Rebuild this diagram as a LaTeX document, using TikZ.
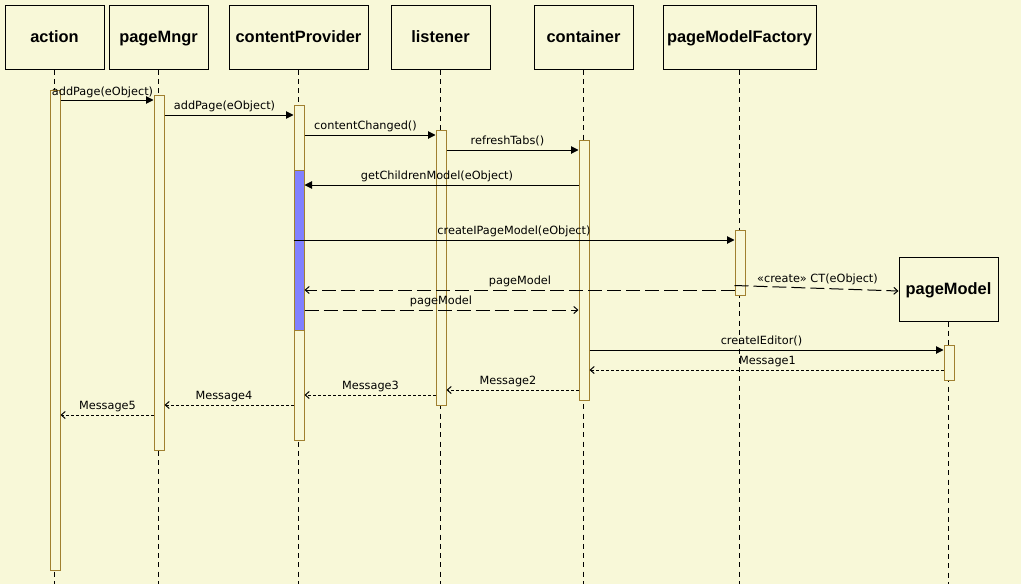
\documentclass[tikz,border=0pt]{standalone}
\usepackage{fontspec}
\setmainfont{DejaVu Sans}
\newfontfamily\headfont{Liberation Sans}
\usetikzlibrary{arrows.meta}
\definecolor{bg}{RGB}{248,248,216}
\definecolor{barc}{RGB}{160,128,48}
\definecolor{actblue}{RGB}{128,128,255}
\tikzset{
  head/.style={draw=black, line width=1pt, fill=bg, minimum height=64pt, inner sep=0pt,
    text height=11.7pt, text depth=0pt,
    font=\headfont\fontsize{16.4}{18}\selectfont\bfseries},
  life/.style={draw=black, line width=1pt, dash pattern=on 5pt off 4.3pt},
  actbar/.style={draw=barc, line width=1pt, fill=bg, minimum width=10pt, inner sep=0pt},
  call/.style={draw=black, line width=1pt, -{Triangle[length=7.5pt,width=7.5pt]}},
  reply/.style={draw=black, line width=1pt, dash pattern=on 3pt off 2pt,
    -{Straight Barb[length=4pt,width=7pt]}},
  longreply/.style={draw=black, line width=1pt, dash pattern=on 14pt off 5pt,
    -{Straight Barb[length=4pt,width=7pt]}},
  lbl/.style={anchor=base, inner sep=0pt, font=\fontsize{11.3}{13}\selectfont},
}
\begin{document}
\begin{tikzpicture}[x=1pt,y=-1pt]
\useasboundingbox[fill=bg] (0,0) rectangle (1021,584);

% headers
\node[head, minimum width=99pt]  (hA) at (54.5,37)  {action};
\node[head, minimum width=99pt]  (hM) at (158.5,37) {pageMngr};
\node[head, minimum width=139pt] (hC) at (298.5,37) {contentProvider};
\node[head, minimum width=99pt]  (hL) at (440.5,37) {listener};
\node[head, minimum width=99pt]  (hK) at (583.5,37) {container};
\node[head, minimum width=153pt] (hF) at (739.5,37) {pageModelFactory};
\node[head, minimum width=99pt]  (pM) at (948.5,289) {pageModel};

% lifelines
\foreach \h in {hA,hM,hC,hL,hK,hF,pM}
  \draw[life] (\h.south) -- (\h.south |- 0,584);

% activation bars
\node[actbar, minimum height=480pt] (aA) at (55,330) {};
\node[actbar, minimum height=355pt] (aM) at (159,272.5) {};
\node[actbar, minimum height=335pt] (aC) at (299,272.5) {};
\node[actbar, fill=actblue, minimum height=160pt] (aCb) at (299,250) {};
\node[actbar, minimum height=275pt] (aL) at (441,267.5) {};
\node[actbar, minimum height=260pt] (aK) at (584,270) {};
\node[actbar, minimum height=65pt]  (aF) at (740,262.5) {};
\node[actbar, minimum height=35pt]  (aP) at (949,362.5) {};

% messages
\draw[call] (aA.east |- 0,100) -- (aM.west |- 0,100);
\node[lbl] (l1) at (102.5,95) {addPage(eObject)};

\draw[call] (aM.east |- 0,115) -- (aC.west |- 0,115);
\node[lbl] (l2) at (224.5,109) {addPage(eObject)};

\draw[call] (aC.east |- 0,135) -- (aL.west |- 0,135);
\node[lbl] (l3) at (365.5,129) {contentChanged()};

\draw[call] (aL.east |- 0,150) -- (aK.west |- 0,150);
\node[lbl] (l4) at (507.5,144) {refreshTabs()};

\draw[call] (aK.west |- 0,185) -- (aCb.east |- 0,185);
\node[lbl] (l5) at (437,179.5) {getChildrenModel(eObject)};

\draw[call] (aCb.west |- 0,240) -- (aF.west |- 0,240);
\node[lbl] (l6) at (514,234.5) {createIPageModel(eObject)};

\draw[longreply] (aF.west |- 0,290) -- (aCb.east |- 0,290);
\node[lbl] (l7) at (520,284) {pageModel};

\draw[longreply] (aCb.east |- 0,310) -- (aK.west |- 0,310);
\node[lbl] (l8) at (441,304) {pageModel};

\draw[longreply] (aF.west |- 0,285.5) -- (pM.west |- 0,291);
\node[lbl] (l9) at (817.5,282) {«create» CT(eObject)};

\draw[call] (aK.east |- 0,350) -- (aP.west |- 0,350);
\node[lbl] (l10) at (761.5,344.5) {createIEditor()};

\draw[reply] (aP.west |- 0,370) -- (aK.east |- 0,370);
\node[lbl] (l11) at (767.5,364) {Message1};

\draw[reply] (aK.west |- 0,390) -- (aL.east |- 0,390);
\node[lbl] (l12) at (508,384.5) {Message2};

\draw[reply] (aL.west |- 0,395) -- (aC.east |- 0,395);
\node[lbl] (l13) at (370.5,389) {Message3};

\draw[reply] (aC.west |- 0,405) -- (aM.east |- 0,405);
\node[lbl] (l14) at (224,399) {Message4};

\draw[reply] (aM.west |- 0,415) -- (aA.east |- 0,415);
\node[lbl] (l15) at (107.5,409) {Message5};
\end{tikzpicture}
\end{document}
